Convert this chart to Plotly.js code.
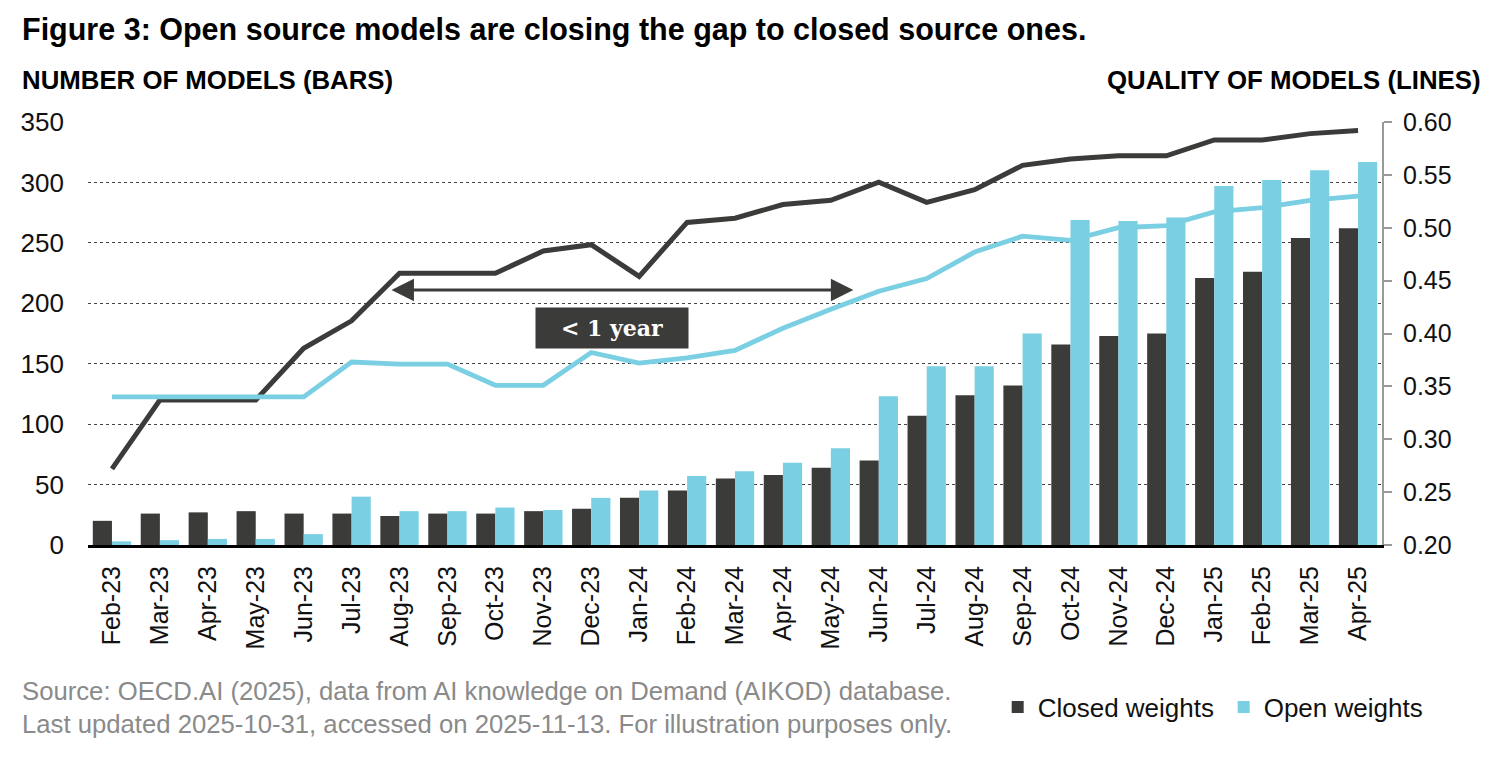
<!DOCTYPE html>
<html>
<head>
<meta charset="utf-8">
<script src="https://cdn.plot.ly/plotly-3.0.1.min.js"></script>
<style>
  html, body { margin: 0; padding: 0; background: #fff; }
  #chart { width: 1500px; height: 770px; }
</style>
</head>
<body>
<div id="chart"></div>
<script>
var months = ['Feb-23','Mar-23','Apr-23','May-23','Jun-23','Jul-23','Aug-23','Sep-23','Oct-23','Nov-23','Dec-23',
  'Jan-24','Feb-24','Mar-24','Apr-24','May-24','Jun-24','Jul-24','Aug-24','Sep-24','Oct-24','Nov-24','Dec-24',
  'Jan-25','Feb-25','Mar-25','Apr-25'];

// number of models (bars, left axis)
var closedCount = [20,26,27,28,26,26,24,26,26,28,30,39,45,55,58,64,70,107,124,132,166,173,175,221,226,254,262];
var openCount   = [3,4,5,5,9,40,28,28,31,29,39,45,57,61,68,80,123,148,148,175,269,268,271,297,302,310,317];

// quality of models (lines, right axis)
var closedQuality = [0.272,0.337,0.337,0.337,0.386,0.412,0.457,0.457,0.457,0.478,0.484,0.454,0.505,0.509,0.522,0.526,0.543,0.524,0.536,0.559,0.565,0.568,0.568,0.583,0.583,0.589,0.592];
var openQuality   = [0.340,0.340,0.340,0.340,0.340,0.373,0.371,0.371,0.351,0.351,0.382,0.372,0.377,0.384,0.405,0.423,0.440,0.452,0.477,0.492,0.488,0.500,0.502,0.515,0.519,0.526,0.530];

var dark = '#3b3c3a';
var blue = '#7acfe2';
var sans = 'Liberation Sans, Arial, sans-serif';

var closedBars = {
  x: months, y: closedCount, name: 'Closed weights', type: 'bar',
  marker: {color: dark}
};
var openBars = {
  x: months, y: openCount, name: 'Open weights', type: 'bar',
  marker: {color: blue}
};
var closedLine = {
  x: months, y: closedQuality, yaxis: 'y2', type: 'scatter', mode: 'lines',
  line: {color: dark, width: 5}, showlegend: false
};
var openLine = {
  x: months, y: openQuality, yaxis: 'y2', type: 'scatter', mode: 'lines',
  line: {color: blue, width: 4.8}, showlegend: false
};

var layout = {
  width: 1500, height: 770,
  margin: {l: 88, r: 118, t: 122, b: 225},
  paper_bgcolor: '#fff', plot_bgcolor: '#fff',
  font: {family: sans, color: '#111', size: 25},
  barmode: 'group', bargap: 0.2, bargroupgap: 0,
  showlegend: true,
  legend: {
    orientation: 'h', x: 0.703, y: -0.383, xanchor: 'left', yanchor: 'middle',
    font: {size: 26, color: '#111'}, itemwidth: 30, traceorder: 'normal',
    entrywidth: 181
  },
  xaxis: {
    type: 'category', tickangle: -90, showgrid: false, zeroline: false,
    showline: true, linecolor: '#000', linewidth: 3, ticks: '',
    tickfont: {size: 25}, ticklabelstandoff: 8
  },
  yaxis: {
    range: [0, 350], dtick: 50, showline: false, zeroline: false, ticks: '',
    showgrid: true, gridcolor: '#444', gridwidth: 1, griddash: 'dot',
    tickfont: {size: 26}, ticklabelstandoff: 23
  },
  yaxis2: {
    overlaying: 'y', side: 'right', range: [0.2, 0.6], dtick: 0.05, tickformat: '.2f',
    showgrid: false, zeroline: false, showline: true, linecolor: '#999', linewidth: 2,
    ticks: 'outside', ticklen: 8, tickcolor: '#999', tickwidth: 2,
    tickfont: {size: 25}, ticklabelstandoff: 6
  },
  annotations: [
    {xref: 'paper', yref: 'paper', x: -0.0526, y: 1.2175, xanchor: 'left', yanchor: 'middle',
     text: '<b>Figure 3: Open source models are closing the gap to closed source ones.</b>',
     showarrow: false, font: {size: 30.5, color: '#000'}},
    {xref: 'paper', yref: 'paper', x: -0.0526, y: 1.0993, xanchor: 'left', yanchor: 'middle',
     text: '<b>NUMBER OF MODELS (BARS)</b>', showarrow: false, font: {size: 25.8, color: '#000'}},
    {xref: 'paper', yref: 'paper', x: 1.078, y: 1.0993, xanchor: 'right', yanchor: 'middle',
     text: '<b>QUALITY OF MODELS (LINES)</b>', showarrow: false, font: {size: 25.8, color: '#000'}},
    {xref: 'paper', yref: 'paper', x: -0.0526, y: -0.3853, xanchor: 'left', yanchor: 'middle', align: 'left',
     text: 'Source: OECD.AI (2025), data from AI knowledge on Demand (AIKOD) database.<br>Last updated 2025-10-31, accessed on 2025-11-13. For illustration purposes only.',
     showarrow: false, font: {size: 25.7, color: '#8a8a8a'}},
    // double-headed arrow
    {xref: 'x', yref: 'y', axref: 'x', ayref: 'y', x: 15.47, y: 211, ax: 5.8, ay: 211,
     text: '', showarrow: true, arrowside: 'end+start', arrowhead: 2, startarrowhead: 2,
     arrowsize: 1.5, startarrowsize: 1.5, arrowwidth: 3, arrowcolor: dark, standoff: 0, startstandoff: 0},
    {xref: 'x', yref: 'y', x: 10.44, y: 179.5, xanchor: 'center', yanchor: 'middle',
     text: '<b>&lt; 1 year</b>', showarrow: false, bgcolor: dark, width: 150, height: 38,
     font: {family: 'DejaVu Serif, Liberation Serif, serif', size: 22, color: '#fff'}}
  ]
};

Plotly.newPlot('chart', [closedBars, openBars, closedLine, openLine], layout, {displayModeBar: false, staticPlot: true});
</script>
</body>
</html>
